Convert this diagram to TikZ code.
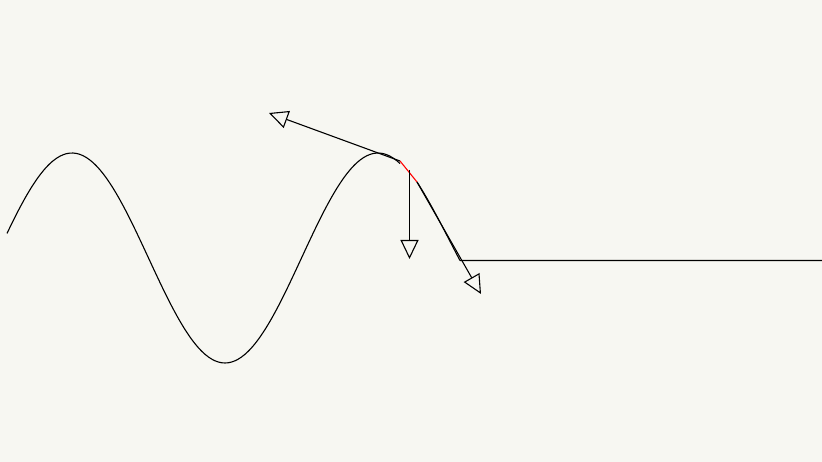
\documentclass[tikz,border=0pt]{standalone}
\usetikzlibrary{arrows.meta}
\definecolor{paper}{HTML}{F7F7F2}
\tikzset{
  rope/.style={line width=1.1pt,line join=round},
  force/.style={-{Triangle[open,length=19pt,width=18pt]},line width=1.1pt}
}

\begin{document}
\begin{tikzpicture}[x=1pt,y=-1pt]
\fill[paper] (0,0) rectangle (822,462);
\useasboundingbox (0,0) rectangle (822,462);

\coordinate (segL) at (400,161);
\coordinate (segR) at (417,182);
\coordinate (segM) at (409.5,170);
\coordinate (front) at (460,260.5);
\coordinate (far) at (822,260.5);
\coordinate (pullL) at (269,113);
\coordinate (pullR) at (481,294);
\coordinate (down) at (409.5,259);

\draw[rope] plot[domain=7:400,samples=120,smooth] (\x,{258-105*cos(1.17647*(\x-72))});
\draw[rope,red] (segL) -- (segR);
\draw[rope] (segR) .. controls (432,205) and (448,238) .. (front) -- (far);

\draw[force] (segL) -- (pullL);
\draw[force] (segM) -- (down);
\draw[force] (segR) -- (pullR);
\end{tikzpicture}
\end{document}
